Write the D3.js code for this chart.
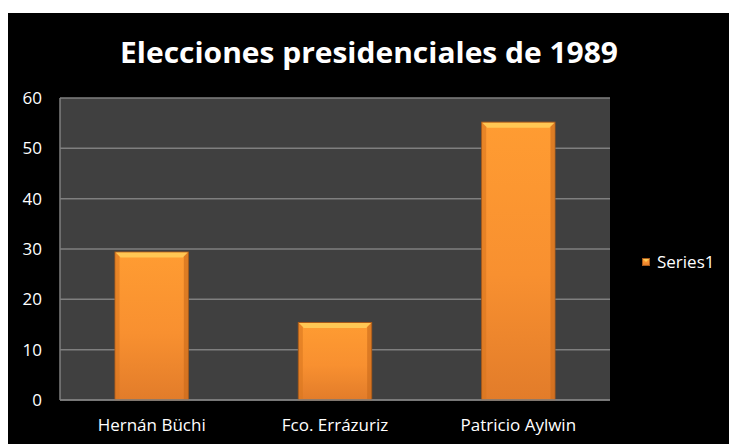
<!DOCTYPE html>
<html>
<head>
<meta charset="utf-8">
<script src="https://cdn.jsdelivr.net/npm/d3@7"></script>
<style>
  html, body { margin: 0; padding: 0; background: #ffffff; }
  svg { display: block; }
</style>
</head>
<body>
<script>
const categories = ["Hernán Büchi", "Fco. Errázuriz", "Patricio Aylwin"];
const values = [29.4, 15.4, 55.2];
const yTicks = [0, 10, 20, 30, 40, 50, 60];
const seriesName = "Series1";
const titleText = "Elecciones presidenciales de 1989";

const W = 729, H = 444;
const svg = d3.select("body").append("svg").attr("width", W).attr("height", H);

// chart background
svg.append("rect").attr("x", 8).attr("y", 13).attr("width", W - 8).attr("height", H - 13).attr("fill", "#000");

const plot = { left: 60, right: 610, top: 98, bottom: 400 };

const x = d3.scaleBand().domain(categories).range([plot.left, plot.right]).paddingInner(0.6).paddingOuter(0.3);
const y = d3.scaleLinear().domain([0, 60]).range([plot.bottom, plot.top]);

const defs = svg.append("defs");
const grad = defs.append("linearGradient").attr("id", "barGrad").attr("x1", 0).attr("y1", 0).attr("x2", 0).attr("y2", 1);
grad.append("stop").attr("offset", "0%").attr("stop-color", "#ff9c32");
grad.append("stop").attr("offset", "55%").attr("stop-color", "#f89030");
grad.append("stop").attr("offset", "100%").attr("stop-color", "#e27c2a");

// plot area
svg.append("rect").attr("x", plot.left).attr("y", plot.top)
  .attr("width", plot.right - plot.left).attr("height", plot.bottom - plot.top)
  .attr("fill", "#404040");

// gridlines
svg.append("g").selectAll("line").data(yTicks).join("line")
  .attr("x1", plot.left).attr("x2", plot.right)
  .attr("y1", d => y(d)).attr("y2", d => y(d))
  .attr("stroke", "#7f7f7f").attr("stroke-width", 1.5);

// left axis line
svg.append("line").attr("x1", plot.left).attr("x2", plot.left).attr("y1", plot.top).attr("y2", plot.bottom)
  .attr("stroke", "#7f7f7f").attr("stroke-width", 1.5);

const labelFont = "Open Sans, sans-serif";
const labelSize = 17;

// y axis labels
const yAxis = d3.axisLeft(y).tickValues(yTicks).tickSize(0).tickPadding(18);
const gy = svg.append("g").attr("transform", `translate(${plot.left},0)`).call(yAxis);
gy.attr("font-size", labelSize).attr("font-family", labelFont);
gy.select(".domain").remove();
gy.selectAll("text").attr("fill", "#fff").style("font-size", labelSize + "px").style("font-family", labelFont);

// x axis labels
const xAxis = d3.axisBottom(x).tickSize(0).tickPadding(19);
const gx = svg.append("g").attr("transform", `translate(0,${plot.bottom})`).call(xAxis);
gx.attr("font-size", labelSize).attr("font-family", labelFont);
gx.select(".domain").remove();
gx.selectAll("text").attr("fill", "#fff").style("font-size", labelSize + "px").style("font-family", labelFont);

// bars with bevel
const bars = svg.append("g").selectAll("g").data(values).join("g");
bars.append("rect")
  .attr("x", (d, i) => x(categories[i]))
  .attr("y", d => y(d))
  .attr("width", x.bandwidth())
  .attr("height", d => y(0) - y(d))
  .attr("fill", "url(#barGrad)")
  .attr("stroke", "#a85a1a").attr("stroke-width", 1);
// top bevel highlight
bars.append("path")
  .attr("d", (d, i) => {
    const x0 = x(categories[i]) + 0.5, x1 = x0 + x.bandwidth() - 1, t = y(d) + 0.5, b = 5;
    return `M${x0},${t}L${x1},${t}L${x1 - b},${t + b}L${x0 + b},${t + b}Z`;
  })
  .attr("fill", "#ffcc58").attr("opacity", 0.9);
// side bevels
bars.append("path")
  .attr("d", (d, i) => {
    const x0 = x(categories[i]) + 0.5, t = y(d) + 0.5, bot = y(0), b = 4;
    return `M${x0},${t}L${x0 + b},${t + b}L${x0 + b},${bot}L${x0},${bot}Z`;
  })
  .attr("fill", "#d8761f").attr("opacity", 0.6);
bars.append("path")
  .attr("d", (d, i) => {
    const x1 = x(categories[i]) + x.bandwidth() - 0.5, t = y(d) + 0.5, bot = y(0), b = 4;
    return `M${x1},${t}L${x1 - b},${t + b}L${x1 - b},${bot}L${x1},${bot}Z`;
  })
  .attr("fill", "#c8691a").attr("opacity", 0.6);

// bottom axis line (drawn over bars)
svg.append("line").attr("x1", plot.left).attr("x2", plot.right).attr("y1", plot.bottom).attr("y2", plot.bottom)
  .attr("stroke", "#7f7f7f").attr("stroke-width", 1.5);

// title
svg.append("text").attr("x", 369).attr("y", 63)
  .attr("text-anchor", "middle")
  .attr("fill", "#fff").attr("font-family", "Open Sans, sans-serif").attr("font-weight", "bold")
  .attr("font-size", 29)
  .attr("textLength", 498).attr("lengthAdjust", "spacingAndGlyphs")
  .text(titleText);

// legend
const lg = svg.append("g");
lg.append("rect").attr("x", 642.5).attr("y", 258.5).attr("width", 7).attr("height", 7)
  .attr("fill", "url(#barGrad)").attr("stroke", "#a85a1a").attr("stroke-width", 1);
lg.append("path").attr("d", "M643,259L649,259L646,262Z").attr("fill", "#ffcc58");
lg.append("text").attr("x", 657).attr("y", 268).attr("fill", "#fff")
  .attr("font-family", labelFont).attr("font-size", labelSize).text(seriesName);
</script>
</body>
</html>
